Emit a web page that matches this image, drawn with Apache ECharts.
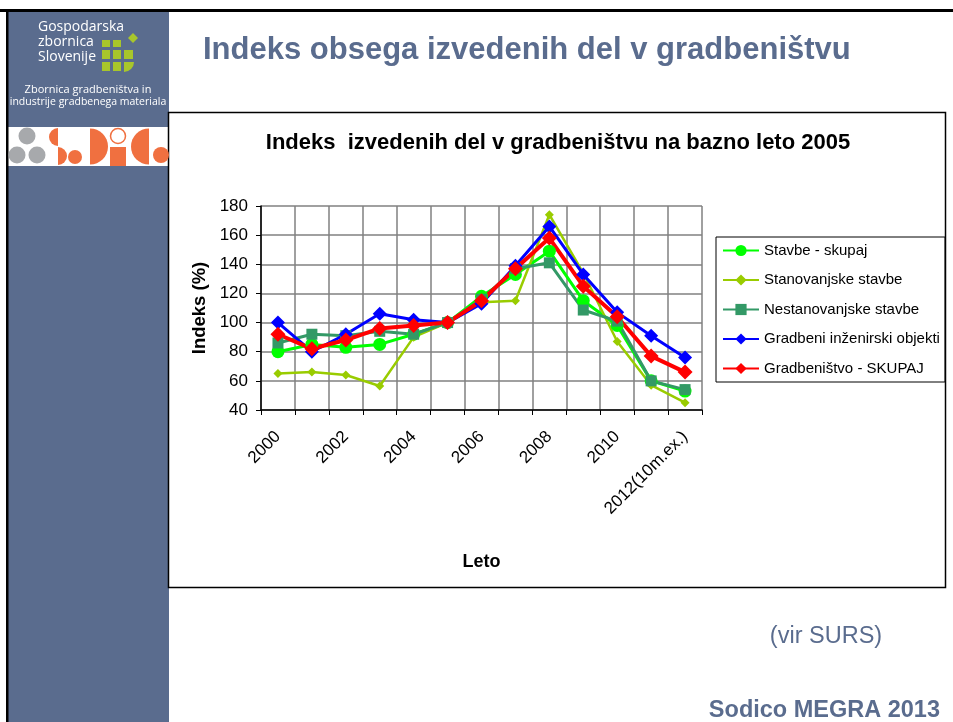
<!DOCTYPE html>
<html>
<head>
<meta charset="utf-8">
<script src="https://cdn.jsdelivr.net/npm/echarts@6/dist/echarts.min.js"></script>
<style>
html,body{margin:0;padding:0;background:#fff;}
#c{width:953px;height:722px;}
</style>
</head>
<body>
<div id="c"></div>
<script>
// ---- data ----
const years = ['2000','2001','2002','2003','2004','2005','2006','2007','2008','2009','2010','2011','2012(10m.ex.)'];
const stavbeSkupaj   = [80, 85, 83, 85, 92, 100, 118, 133, 149, 115, 98, 60, 53];
const stanovanjske   = [65, 66, 64, 56.5, 90, 100, 114, 115, 174, 134, 87, 57, 45];
const nestanovanjske = [86, 92, 91, 94, 92, 100, 116, 137, 141, 108.6, 101, 60, 54];
const gradbeniIO     = [100, 80, 92, 106, 102, 100, 113, 139, 166, 133, 107, 91, 76];
const gradbenistvo   = [92, 82, 88, 96, 98, 100, 115, 137, 158, 125, 104, 77, 66];
const yTicks = {min: 40, max: 180, step: 20};

const slate = '#5a6c8e';
const orange = '#f07040';
const gray = '#a7a9ac';
const lime = '#a8c62b';
const font = 'Liberation Sans, Arial, sans-serif';

const chart = echarts.init(document.getElementById('c'), null, {renderer: 'canvas'});

function mk(name, data, color, symbol, size, width) {
  return {
    name, type: 'line', data, symbol, symbolSize: size,
    lineStyle: {color, width}, itemStyle: {color},
    animation: false
  };
}

const graphic = [
  // sidebar
  {type:'rect', shape:{x:8, y:10, width:161, height:712}, style:{fill:slate}, z:-10},
  // logo band
  {type:'rect', shape:{x:8, y:127, width:161, height:39}, style:{fill:'#fff'}, z:-9},
  // top and left black lines
  {type:'rect', shape:{x:0, y:9, width:953, height:3}, style:{fill:'#000'}, z:-8},
  {type:'rect', shape:{x:6, y:9, width:2.5, height:713}, style:{fill:'#000'}, z:-8},
  // chart frame
  {type:'rect', shape:{x:168.5, y:112.5, width:777, height:475}, style:{fill:'none', stroke:'#000', lineWidth:1.5}, z:-7},
  // GZS logo texts
  {type:'text', style:{x:38, y:27, text:'Gospodarska', fill:'#fff', font:'14px "Open Sans", sans-serif', textVerticalAlign:'middle'}},
  {type:'text', style:{x:38, y:42, text:'zbornica', fill:'#fff', font:'14px "Open Sans", sans-serif', textVerticalAlign:'middle'}},
  {type:'text', style:{x:38, y:57, text:'Slovenije', fill:'#fff', font:'14px "Open Sans", sans-serif', textVerticalAlign:'middle'}},
  {type:'text', style:{x:88, y:90, text:'Zbornica gradbeništva in', fill:'#fff', font:'11px "Open Sans", sans-serif', textAlign:'center', textVerticalAlign:'middle'}},
  {type:'text', style:{x:88, y:102, text:'industrije gradbenega materiala', fill:'#fff', font:'10.5px "Open Sans", sans-serif', textAlign:'center', textVerticalAlign:'middle'}},
  // GZS squares
  {type:'rect', shape:{x:102, y:40, width:8, height:7}, style:{fill:lime}},
  {type:'rect', shape:{x:113, y:40, width:8, height:7}, style:{fill:lime}},
  {type:'polygon', shape:{points:[[133,33],[138,38],[133,43],[128,38]]}, style:{fill:lime}},
  {type:'rect', shape:{x:102, y:50, width:8, height:9}, style:{fill:lime}},
  {type:'rect', shape:{x:113, y:50, width:8, height:9}, style:{fill:lime}},
  {type:'rect', shape:{x:124, y:50, width:9, height:9}, style:{fill:lime}},
  {type:'rect', shape:{x:102, y:62, width:8, height:9}, style:{fill:lime}},
  {type:'rect', shape:{x:113, y:62, width:8, height:9}, style:{fill:lime}},
  {type:'sector', shape:{cx:124, cy:62, r:10, startAngle:0, endAngle:Math.PI/2}, style:{fill:lime}},
  // SoDiCo logo
  {type:'circle', shape:{cx:27, cy:136, r:8.5}, style:{fill:gray}},
  {type:'circle', shape:{cx:17, cy:155, r:8.5}, style:{fill:gray}},
  {type:'circle', shape:{cx:37, cy:155, r:8.5}, style:{fill:gray}},
  {type:'sector', shape:{cx:58, cy:137, r:9, startAngle:Math.PI/2, endAngle:Math.PI*1.5}, style:{fill:orange}},
  {type:'sector', shape:{cx:58, cy:156, r:9, startAngle:-Math.PI/2, endAngle:Math.PI/2}, style:{fill:orange}},
  {type:'circle', shape:{cx:75, cy:157, r:7}, style:{fill:orange}},
  {type:'sector', shape:{cx:90, cy:146.5, r:18, startAngle:-Math.PI/2, endAngle:Math.PI/2}, style:{fill:orange}},
  {type:'circle', shape:{cx:118, cy:136, r:7.5}, style:{fill:'#fff', stroke:orange, lineWidth:1.5}},
  {type:'rect', shape:{x:110, y:147, width:16, height:19}, style:{fill:orange}},
  {type:'sector', shape:{cx:149, cy:146.5, r:18, startAngle:Math.PI/2, endAngle:Math.PI*1.5}, style:{fill:orange}},
  {type:'circle', shape:{cx:161, cy:155, r:8}, style:{fill:orange}},
  // titles
  {type:'text', style:{x:203, y:50, text:'Indeks obsega izvedenih del v gradbeništvu', fill:slate, font:'bold 31px ' + font, textVerticalAlign:'middle'}},
  {type:'text', style:{x:558, y:143, text:'Indeks  izvedenih del v gradbeništvu na bazno leto 2005', fill:'#000', font:'bold 22px ' + font, textAlign:'center', textVerticalAlign:'middle'}},
  {type:'text', style:{x:826, y:637, text:'(vir SURS)', fill:slate, font:'23.5px ' + font, textAlign:'center', textVerticalAlign:'middle'}},
  {type:'text', style:{x:940, y:711, text:'Sodico MEGRA 2013', fill:slate, font:'bold 23.5px ' + font, textAlign:'right', textVerticalAlign:'middle'}}
];

const option = {
  animation: false,
  backgroundColor: '#fff',
  textStyle: {fontFamily: font},
  graphic,
  grid: {left: 261, right: 251, top: 206, bottom: 312, containLabel: false},
  legend: {
    orient: 'vertical', left: 716, top: 237,
    padding: [6, 5, 6, 6], itemGap: 14.5, itemWidth: 36, itemHeight: 14,
    borderColor: '#000', borderWidth: 1, backgroundColor: '#fff',
    textStyle: {fontSize: 15, color: '#000', fontFamily: font},
    data: ['Stavbe - skupaj','Stanovanjske stavbe','Nestanovanjske stavbe','Gradbeni inženirski objekti','Gradbeništvo - SKUPAJ']
  },
  xAxis: {
    type: 'category', data: years, boundaryGap: true,
    name: 'Leto', nameLocation: 'middle', nameGap: 143,
    nameTextStyle: {fontWeight: 'bold', fontSize: 18, color: '#000'},
    axisLine: {lineStyle: {color: '#000', width: 1.5}},
    axisTick: {show: true, interval: 0, length: 5, lineStyle: {color: '#000'}},
    axisLabel: {interval: 1, rotate: 45, fontSize: 17, color: '#000', margin: 24},
    splitLine: {show: true, interval: 0, lineStyle: {color: '#808080', width: 1.5}}
  },
  yAxis: {
    type: 'value', min: yTicks.min, max: yTicks.max, interval: yTicks.step,
    name: 'Indeks (%)', nameLocation: 'middle', nameGap: 52,
    nameTextStyle: {fontWeight: 'bold', fontSize: 18.5, color: '#000'},
    axisLine: {show: true, lineStyle: {color: '#000', width: 1.5}},
    axisTick: {show: true, length: 5, lineStyle: {color: '#000'}},
    axisLabel: {fontSize: 17, color: '#000', margin: 13},
    splitLine: {show: true, lineStyle: {color: '#808080', width: 1.5}}
  },
  series: [
    mk('Stavbe - skupaj', stavbeSkupaj, '#00ff00', 'circle', 13, 3),
    mk('Stanovanjske stavbe', stanovanjske, '#99cc00', 'diamond', 9, 2.5),
    mk('Nestanovanjske stavbe', nestanovanjske, '#339966', 'rect', 11, 3),
    mk('Gradbeni inženirski objekti', gradbeniIO, '#0000ff', 'diamond', 14, 3),
    mk('Gradbeništvo - SKUPAJ', gradbenistvo, '#ff0000', 'diamond', 15, 4)
  ]
};
chart.setOption(option);
</script>
</body>
</html>
